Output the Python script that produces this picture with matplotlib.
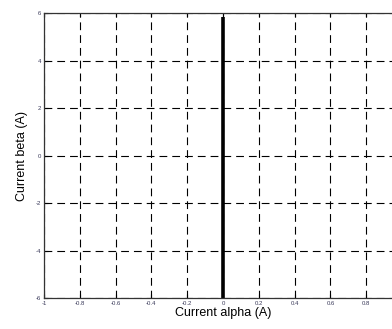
import matplotlib
matplotlib.use("Agg")
import matplotlib.pyplot as plt

# Trajectory of the current vector (alpha stays at zero)
current_alpha = [0.0, 0.0]
current_beta = [-6.0, 5.85]

x_ticks = [-1, -0.8, -0.6, -0.4, -0.2, 0, 0.2, 0.4, 0.6, 0.8, 1]
# the label at 1 falls outside the cropped picture
x_tick_labels = ["-1", "-0.8", "-0.6", "-0.4", "-0.2", "0", "0.2", "0.4", "0.6", "0.8", ""]
y_ticks = [-6, -4, -2, 0, 2, 4, 6]
y_tick_labels = ["-6", "-4", "-2", "0", "2", "4", "6"]

plt.rcParams["font.family"] = ["Liberation Sans", "DejaVu Sans"]

fig = plt.figure(figsize=(3.92, 3.29), dpi=100)
# axes runs past the right edge of the picture, like the cropped original
ax = fig.add_axes([44 / 392, 30.7 / 329, 358 / 392, 285 / 329])

ax.plot(current_alpha, current_beta, color="black", linewidth=2.6, solid_capstyle="butt")

ax.set_xlim(-1, 1)
ax.set_ylim(-6, 6)
ax.set_xticks(x_ticks)
ax.set_xticklabels(x_tick_labels)
ax.set_yticks(y_ticks)
ax.set_yticklabels(y_tick_labels)

ax.grid(True, color="black", linestyle=(0, (7, 4.5)), linewidth=0.8)
ax.tick_params(direction="in", length=3, width=0.8, labelsize=4.3, labelcolor="#3a3a5a",
               top=True, right=True, pad=2)
for s in ax.spines.values():
    s.set_color("#333333")
    s.set_linewidth(0.9)

ax.set_xlabel("Current alpha (A)", fontsize=9, labelpad=1)
ax.set_ylabel("Current beta (A)", fontsize=9, labelpad=6)

fig.savefig("out.png", dpi=100)
